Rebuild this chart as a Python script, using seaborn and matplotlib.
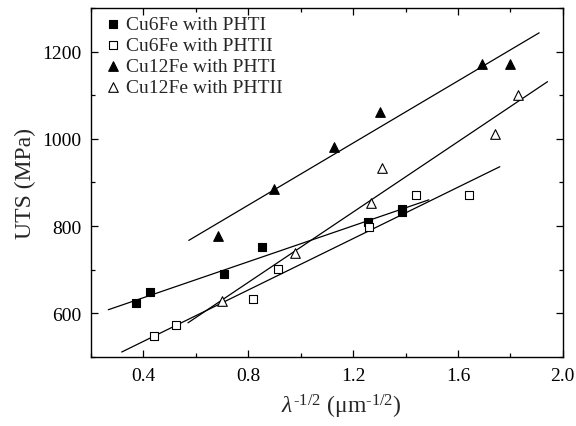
"""UTS vs lambda^-1/2 for Cu6Fe / Cu12Fe after PHTI and PHTII, with linear fits."""

import matplotlib

matplotlib.use("Agg")
import matplotlib.pyplot as plt
import pandas as pd
import seaborn as sns
from matplotlib.ticker import MultipleLocator

sns.set_style("ticks")
plt.rcParams["font.family"] = ["Liberation Serif", "DejaVu Serif"]
plt.rcParams["mathtext.fontset"] = "custom"
plt.rcParams["mathtext.rm"] = "Liberation Serif"
plt.rcParams["mathtext.it"] = "Liberation Serif:italic"

# points
cu6_pht1_x = [0.37, 0.425, 0.706, 0.851, 1.257, 1.387, 1.387]
cu6_pht1_y = [624, 648, 689, 752, 809, 832, 840]
cu6_pht2_x = [0.439, 0.524, 0.818, 0.914, 1.259, 1.44, 1.642]
cu6_pht2_y = [548, 572, 633, 702, 798, 872, 872]
cu12_pht1_x = [0.683, 0.897, 1.127, 1.301, 1.69, 1.798]
cu12_pht1_y = [777, 886, 982, 1062, 1171, 1171]
cu12_pht2_x = [0.699, 0.978, 1.269, 1.312, 1.741, 1.828]
cu12_pht2_y = [627, 738, 852, 932, 1012, 1100]

# fitted lines, endpoints as drawn in the figure
cu6_pht1_fit_x = [0.266, 1.489]
cu6_pht1_fit_y = [608, 860]
cu6_pht2_fit_x = [0.317, 1.76]
cu6_pht2_fit_y = [511, 936]
cu12_pht1_fit_x = [0.573, 1.91]
cu12_pht1_fit_y = [767, 1243]
cu12_pht2_fit_x = [0.57, 1.942]
cu12_pht2_fit_y = [578, 1131]

SERIES = [
    ("Cu6Fe with PHTI", cu6_pht1_x, cu6_pht1_y, cu6_pht1_fit_x, cu6_pht1_fit_y, "s", True),
    ("Cu6Fe with PHTII", cu6_pht2_x, cu6_pht2_y, cu6_pht2_fit_x, cu6_pht2_fit_y, "s", False),
    ("Cu12Fe with PHTI", cu12_pht1_x, cu12_pht1_y, cu12_pht1_fit_x, cu12_pht1_fit_y, "^", True),
    ("Cu12Fe with PHTII", cu12_pht2_x, cu12_pht2_y, cu12_pht2_fit_x, cu12_pht2_fit_y, "^", False),
]


def main() -> None:
    fig = plt.figure(figsize=(5.76, 4.27), dpi=100)
    ax = fig.add_axes([0.158, 0.162, 0.819, 0.817])

    for label, xs, ys, fx, fy, marker, filled in SERIES:
        fit = pd.DataFrame({"x": fx, "y": fy})
        sns.lineplot(data=fit, x="x", y="y", ax=ax, color="black", lw=0.9,
                     estimator=None, sort=False, legend=False)
        pts = pd.DataFrame({"x": xs, "y": ys})
        size = 30 if marker == "s" else 48
        sns.scatterplot(data=pts, x="x", y="y", ax=ax, marker=marker, s=size,
                        color="black" if filled else "white", edgecolor="black",
                        linewidth=0.8, label=label, zorder=3)

    ax.set_xlim(0.2, 2.0)
    ax.set_ylim(500, 1300)
    ax.set_xticks([0.4, 0.8, 1.2, 1.6, 2.0])
    ax.set_xticklabels(["0.4", "0.8", "1.2", "1.6", "2.0"])
    ax.xaxis.set_minor_locator(MultipleLocator(0.2))
    ax.set_yticks([600, 800, 1000, 1200])
    ax.yaxis.set_minor_locator(MultipleLocator(100))
    ax.tick_params(which="both", direction="in", top=True, right=True,
                   labelsize=14, width=0.9, colors="black")
    ax.tick_params(which="major", length=5, pad=7)
    ax.tick_params(which="minor", length=3)
    for sp in ax.spines.values():
        sp.set_linewidth(1.0)
        sp.set_color("black")

    # U+2010 hyphen so the exponent reads "-1/2" rather than a wide minus
    ax.set_xlabel("$\\it{\\lambda}^{\\mathregular{\u20101/2}}$ "
                  "($\\mathregular{\\mu m^{\u20101/2}}$)", fontsize=17)
    ax.xaxis.set_label_coords(0.53, -0.1)
    ax.set_ylabel("UTS (MPa)", fontsize=17, labelpad=4)

    ax.legend(loc="upper left", bbox_to_anchor=(0.026, 0.979), frameon=False,
              fontsize=14, handletextpad=0.15, labelspacing=0.17,
              borderaxespad=0, borderpad=0, handlelength=1.0)

    fig.savefig("out.png", dpi=100)
    plt.close(fig)


if __name__ == "__main__":
    main()
